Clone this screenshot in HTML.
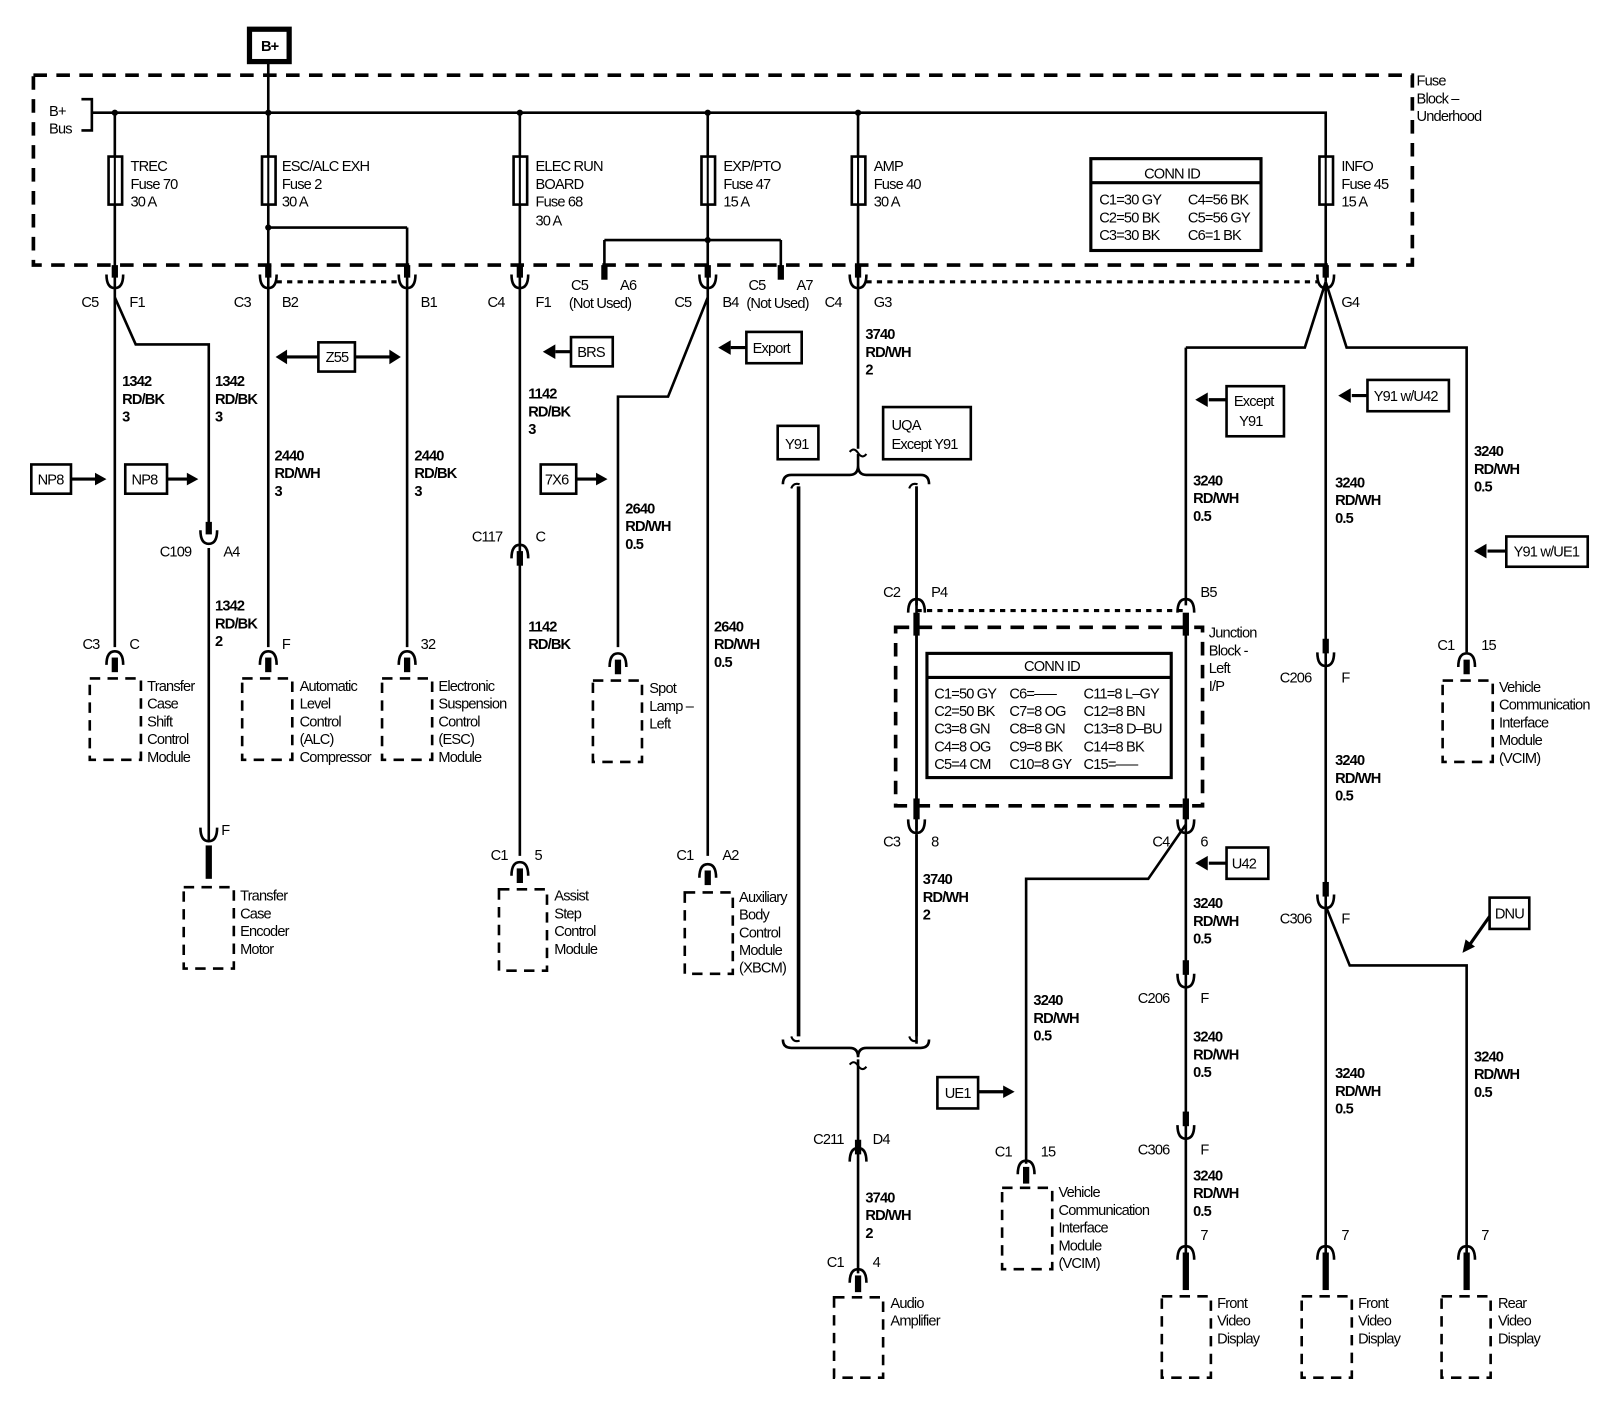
<!DOCTYPE html>
<html><head><meta charset="utf-8"><style>
html,body{margin:0;padding:0;background:#fff;}
svg{display:block;}
text{font-family:"Liberation Sans",sans-serif;font-size:14px;fill:#000;letter-spacing:-0.8px;}
</style></head><body>
<svg width="1618" height="1408" viewBox="0 0 1550 1349" preserveAspectRatio="none" xmlns="http://www.w3.org/2000/svg">
<defs>
<path id="cup" d="M-8,-7 Q-8,6 0,6 Q8,6 8,-7" fill="none" stroke="#000" stroke-width="2.5"/>
<path id="arch" d="M-8,7 Q-8,-6 0,-6 Q8,-6 8,7" fill="none" stroke="#000" stroke-width="2.5"/>
</defs>
<g stroke="#000" fill="none" stroke-width="2.5">
<rect x="239" y="28" width="38" height="31" stroke-width="5"/>
<rect x="32" y="72" width="1321" height="182" stroke-width="3.5" stroke-dasharray="13,9"/>
<path d="M257,60V108 M88,108H1270V270 M78,95H88V125H78"/>
<path d="M110,108V620 M257,108V620 M498,108V820 M678,108V820 M822,108V430 M390,218V620 M257,218H390 M579,230H748 M579,230V265 M748,230V265"/>
<g fill="#fff" stroke-width="2.5"><rect x="104" y="150" width="13" height="46"/><rect x="251" y="150" width="13" height="46"/><rect x="492" y="150" width="13" height="46"/><rect x="672" y="150" width="13" height="46"/><rect x="816" y="150" width="13" height="46"/><rect x="1264" y="150" width="13" height="46"/></g>
<path d="M110,150V196 M257,150V196 M498,150V196 M678,150V196 M822,150V196 M1270,150V196" stroke-width="2"/>
<path d="M265,270H383 M830,270H1262" stroke-width="3" stroke-dasharray="5,5"/>
<path d="M110,285L130,330H200V505 M200,525V805"/>
<path d="M272,342H305 M340,342H376" stroke-width="3"/>
<path d="M678,285L640,380H592V620"/>
<path d="M822,435V448 M750,464Q750,455 758,455H814Q822,455 822,446Q822,455 830,455H882Q890,455 890,464"/>
<path d="M765,466V993" stroke-width="3.5"/>
<path d="M878,466V993"/>
<path d="M758,468Q760,462 766,464 M871,468Q873,462 879,464 M758,993Q760,999 766,997 M871,993Q873,999 879,997" stroke-width="2"/>
<path d="M750,996Q750,1004 758,1004H814Q822,1004 822,1013Q822,1004 830,1004H882Q890,1004 890,996"/>
<path d="M822,1015V1220"/>
<path d="M814,433Q818,428 822,434Q826,440 830,435 M814,1020Q818,1015 822,1021Q826,1027 830,1022" stroke-width="2"/>
<rect x="858" y="601" width="294" height="171" stroke-width="3.5" stroke-dasharray="13,9"/>
<path d="M878,585H1136" stroke-width="3" stroke-dasharray="5,5"/>
<path d="M878,466V580 M878,590V795 M878,800V1000"/>
<path d="M1136,333V580 M1136,588V1200"/>
<path d="M1270,270L1250,333H1136 M1270,270L1290,333H1405V625 M1270,270V1200 M1270,868L1293,925H1405V1200 M1136,790L1100,842H983V1115"/>
<g stroke-width="2.5" stroke-dasharray="10,7">
<rect x="86" y="650" width="49" height="78"/>
<rect x="232" y="650" width="48" height="78"/>
<rect x="366" y="650" width="48" height="78"/>
<rect x="176" y="850" width="48" height="78"/>
<rect x="478" y="852" width="46" height="78"/>
<rect x="568" y="652" width="47" height="78"/>
<rect x="656" y="855" width="46" height="78"/>
<rect x="799" y="1243" width="47" height="77"/>
<rect x="960" y="1138" width="48" height="78"/>
<rect x="1113" y="1242" width="47" height="78"/>
<rect x="1247" y="1242" width="48" height="78"/>
<rect x="1381" y="1242" width="47" height="78"/>
<rect x="1382" y="652" width="48" height="78"/>
</g>
<g stroke-width="2.5">
<rect x="30" y="445" width="38" height="28"/><rect x="120" y="445" width="40" height="28"/>
<rect x="305" y="328" width="35" height="28"/><rect x="547" y="323" width="40" height="28"/>
<rect x="518" y="445" width="34" height="28"/><rect x="715" y="318" width="53" height="30"/>
<rect x="745" y="408" width="39" height="32"/><rect x="846" y="390" width="84" height="50"/>
<rect x="1175" y="370" width="55" height="48"/><rect x="1310" y="364" width="78" height="30"/>
<rect x="1443" y="514" width="78" height="29"/><rect x="1175" y="812" width="40" height="30"/>
<rect x="898" y="1032" width="39" height="30"/><rect x="1427" y="860" width="38" height="30"/>
</g>
<g stroke-width="3"><path d="M68,459H92 M160,459H180 M552,459H572 M937,1046H962 M547,337H532 M715,333H700 M1175,383H1158 M1310,379H1295 M1443,528H1425 M1175,827H1158 M1427,878L1408,905"/></g>
<rect x="1045" y="152" width="163" height="88" stroke-width="3"/><path d="M1045,175H1208" stroke-width="3"/>
<rect x="888" y="626" width="234" height="119" stroke-width="3"/><path d="M888,649H1122" stroke-width="3"/>
</g>
<g fill="#000">
<path d="M102,459L91,453V465Z M190,459L179,453V465Z M582,459L571,453V465Z M972,1046L961,1040V1052Z"/>
<path d="M264,342L275,335V349Z M384,342L373,335V349Z"/>
<path d="M520,337L532,330V344Z M688,333L700,326V340Z M1145,383L1157,376V390Z M1282,379L1294,372V386Z M1412,528L1424,521V535Z M1145,827L1157,820V834Z M1401,913L1404,900L1413,907Z"/>
<circle cx="110" cy="108" r="3"/><circle cx="257" cy="108" r="3"/><circle cx="498" cy="108" r="3"/><circle cx="678" cy="108" r="3"/><circle cx="822" cy="108" r="3"/><circle cx="257" cy="218" r="3"/><circle cx="678" cy="230" r="3"/>
<rect x="107" y="254" width="6" height="12"/><rect x="254" y="254" width="6" height="12"/><rect x="387" y="254" width="6" height="12"/><rect x="495" y="254" width="6" height="12"/><rect x="576" y="254" width="6" height="14"/><rect x="675" y="254" width="6" height="12"/><rect x="745" y="254" width="6" height="14"/><rect x="819" y="254" width="6" height="12"/><rect x="1267" y="254" width="6" height="12"/>
<rect x="107" y="630" width="6" height="14"/><rect x="254" y="630" width="6" height="14"/><rect x="387" y="630" width="6" height="14"/><rect x="589" y="632" width="6" height="14"/><rect x="1402" y="632" width="6" height="14"/>
<rect x="197" y="500" width="6" height="12"/><rect x="197" y="810" width="6" height="32"/>
<rect x="495" y="528" width="6" height="14"/><rect x="495" y="832" width="6" height="14"/><rect x="675" y="834" width="6" height="14"/>
<rect x="875" y="587" width="6" height="22"/><rect x="1133" y="587" width="6" height="22"/><rect x="875" y="765" width="6" height="20"/><rect x="1133" y="765" width="6" height="20"/>
<rect x="1133" y="920" width="6" height="14"/><rect x="1133" y="1065" width="6" height="14"/><rect x="1267" y="612" width="6" height="14"/><rect x="1267" y="845" width="6" height="14"/>
<rect x="819" y="1092" width="6" height="14"/><rect x="819" y="1222" width="6" height="16"/><rect x="980" y="1118" width="6" height="16"/>
<rect x="1133" y="1200" width="6" height="36"/><rect x="1267" y="1200" width="6" height="36"/><rect x="1402" y="1200" width="6" height="36"/>
</g>
<use href="#cup" x="110" y="270"/><use href="#cup" x="257" y="270"/><use href="#cup" x="390" y="270"/><use href="#cup" x="498" y="270"/><use href="#cup" x="678" y="270"/><use href="#cup" x="822" y="270"/><use href="#cup" x="1270" y="270"/>
<use href="#arch" x="110" y="630"/><use href="#arch" x="257" y="630"/><use href="#arch" x="390" y="630"/><use href="#arch" x="592" y="632"/><use href="#arch" x="1405" y="632"/>
<use href="#cup" x="200" y="515"/><use href="#cup" x="200" y="800"/>
<use href="#arch" x="498" y="528"/><use href="#arch" x="498" y="832"/><use href="#arch" x="678" y="834"/>
<use href="#arch" x="878" y="580"/><use href="#arch" x="1136" y="580"/><use href="#cup" x="878" y="792"/><use href="#cup" x="1136" y="792"/>
<use href="#cup" x="1136" y="940"/><use href="#cup" x="1136" y="1085"/><use href="#cup" x="1270" y="632"/><use href="#cup" x="1270" y="864"/>
<use href="#arch" x="822" y="1106"/><use href="#arch" x="822" y="1222"/><use href="#arch" x="983" y="1118"/>
<use href="#arch" x="1136" y="1200"/><use href="#arch" x="1270" y="1200"/><use href="#arch" x="1405" y="1200"/>

<text x="250" y="49" font-weight="bold">B+</text>
<text x="47" y="111">B+</text><text x="47" y="128">Bus</text>
<text x="1357" y="82">Fuse</text><text x="1357" y="99">Block –</text><text x="1357" y="116">Underhood</text>
<text x="125" y="164">TREC</text><text x="125" y="181">Fuse 70</text><text x="125" y="198">30 A</text>
<text x="270" y="164">ESC/ALC EXH</text><text x="270" y="181">Fuse 2</text><text x="270" y="198">30 A</text>
<text x="513" y="164">ELEC RUN</text><text x="513" y="181">BOARD</text><text x="513" y="198">Fuse 68</text><text x="513" y="216">30 A</text>
<text x="693" y="164">EXP/PTO</text><text x="693" y="181">Fuse 47</text><text x="693" y="198">15 A</text>
<text x="837" y="164">AMP</text><text x="837" y="181">Fuse 40</text><text x="837" y="198">30 A</text>
<text x="1285" y="164">INFO</text><text x="1285" y="181">Fuse 45</text><text x="1285" y="198">15 A</text>
<text x="1096" y="171">CONN ID</text>
<text x="1053" y="196">C1=30 GY</text><text x="1138" y="196">C4=56 BK</text>
<text x="1053" y="213">C2=50 BK</text><text x="1138" y="213">C5=56 GY</text>
<text x="1053" y="230">C3=30 BK</text><text x="1138" y="230">C6=1 BK</text>
<text x="78" y="294">C5</text><text x="124" y="294">F1</text>
<text x="224" y="294">C3</text><text x="270" y="294">B2</text><text x="403" y="294">B1</text>
<text x="467" y="294">C4</text><text x="513" y="294">F1</text>
<text x="547" y="278">C5</text><text x="594" y="278">A6</text><text x="545" y="295">(Not Used)</text>
<text x="646" y="294">C5</text><text x="692" y="294">B4</text>
<text x="717" y="278">C5</text><text x="763" y="278">A7</text><text x="715" y="295">(Not Used)</text>
<text x="790" y="294">C4</text><text x="837" y="294">G3</text><text x="1285" y="294">G4</text>
<text x="312" y="347" font-size="13">Z55</text><text x="553" y="342">BRS</text><text x="721" y="338">Export</text>
<text x="36" y="464">NP8</text><text x="126" y="464">NP8</text><text x="522" y="464">7X6</text>
<g font-weight="bold">
<text x="117" y="370">1342</text><text x="117" y="387">RD/BK</text><text x="117" y="404">3</text>
<text x="206" y="370">1342</text><text x="206" y="387">RD/BK</text><text x="206" y="404">3</text>
<text x="263" y="441">2440</text><text x="263" y="458">RD/WH</text><text x="263" y="475">3</text>
<text x="397" y="441">2440</text><text x="397" y="458">RD/BK</text><text x="397" y="475">3</text>
<text x="506" y="382">1142</text><text x="506" y="399">RD/BK</text><text x="506" y="416">3</text>
<text x="599" y="492">2640</text><text x="599" y="509">RD/WH</text><text x="599" y="526">0.5</text>
<text x="829" y="325">3740</text><text x="829" y="342">RD/WH</text><text x="829" y="359">2</text>
<text x="206" y="585">1342</text><text x="206" y="602">RD/BK</text><text x="206" y="619">2</text>
<text x="506" y="605">1142</text><text x="506" y="622">RD/BK</text>
<text x="684" y="605">2640</text><text x="684" y="622">RD/WH</text><text x="684" y="639">0.5</text>
<text x="1143" y="465">3240</text><text x="1143" y="482">RD/WH</text><text x="1143" y="499">0.5</text>
<text x="1279" y="467">3240</text><text x="1279" y="484">RD/WH</text><text x="1279" y="501">0.5</text>
<text x="1412" y="437">3240</text><text x="1412" y="454">RD/WH</text><text x="1412" y="471">0.5</text>
<text x="1279" y="733">3240</text><text x="1279" y="750">RD/WH</text><text x="1279" y="767">0.5</text>
<text x="884" y="847">3740</text><text x="884" y="864">RD/WH</text><text x="884" y="881">2</text>
<text x="1143" y="870">3240</text><text x="1143" y="887">RD/WH</text><text x="1143" y="904">0.5</text>
<text x="990" y="963">3240</text><text x="990" y="980">RD/WH</text><text x="990" y="997">0.5</text>
<text x="1143" y="998">3240</text><text x="1143" y="1015">RD/WH</text><text x="1143" y="1032">0.5</text>
<text x="1412" y="1017">3240</text><text x="1412" y="1034">RD/WH</text><text x="1412" y="1051">0.5</text>
<text x="1279" y="1033">3240</text><text x="1279" y="1050">RD/WH</text><text x="1279" y="1067">0.5</text>
<text x="1143" y="1131">3240</text><text x="1143" y="1148">RD/WH</text><text x="1143" y="1165">0.5</text>
<text x="829" y="1152">3740</text><text x="829" y="1169">RD/WH</text><text x="829" y="1186">2</text>
</g>
<text x="752" y="430">Y91</text><text x="854" y="412">UQA</text><text x="854" y="430">Except Y91</text>
<text x="1182" y="389">Except</text><text x="1187" y="408">Y91</text>
<text x="1316" y="384">Y91 w/U42</text><text x="1450" y="533">Y91 w/UE1</text>
<text x="1180" y="832">U42</text><text x="905" y="1052">UE1</text><text x="1432" y="880">DNU</text>
<text x="153" y="533">C109</text><text x="214" y="533">A4</text>
<text x="452" y="519">C117</text><text x="513" y="519">C</text>
<text x="79" y="622">C3</text><text x="124" y="622">C</text><text x="270" y="622">F</text><text x="403" y="622">32</text>
<text x="212" y="800">F</text>
<text x="846" y="572">C2</text><text x="892" y="572">P4</text><text x="1150" y="572">B5</text>
<text x="1377" y="623">C1</text><text x="1419" y="623">15</text>
<text x="1226" y="654">C206</text><text x="1285" y="654">F</text>
<text x="846" y="811">C3</text><text x="892" y="811">8</text><text x="1104" y="811">C4</text><text x="1150" y="811">6</text>
<text x="1226" y="885">C306</text><text x="1285" y="885">F</text>
<text x="470" y="824">C1</text><text x="512" y="824">5</text><text x="648" y="824">C1</text><text x="692" y="824">A2</text>
<text x="1090" y="961">C206</text><text x="1150" y="961">F</text>
<text x="1090" y="1106">C306</text><text x="1150" y="1106">F</text>
<text x="779" y="1096">C211</text><text x="836" y="1096">D4</text>
<text x="953" y="1108">C1</text><text x="997" y="1108">15</text>
<text x="792" y="1214">C1</text><text x="836" y="1214">4</text>
<text x="1150" y="1188">7</text><text x="1285" y="1188">7</text><text x="1419" y="1188">7</text>
<text x="981" y="643">CONN ID</text>
<g font-size="13.5">
<text x="895" y="669">C1=50 GY</text><text x="967" y="669">C6=–––</text><text x="1038" y="669">C11=8 L–GY</text>
<text x="895" y="686">C2=50 BK</text><text x="967" y="686">C7=8 OG</text><text x="1038" y="686">C12=8 BN</text>
<text x="895" y="703">C3=8 GN</text><text x="967" y="703">C8=8 GN</text><text x="1038" y="703">C13=8 D–BU</text>
<text x="895" y="720">C4=8 OG</text><text x="967" y="720">C9=8 BK</text><text x="1038" y="720">C14=8 BK</text>
<text x="895" y="737">C5=4 CM</text><text x="967" y="737">C10=8 GY</text><text x="1038" y="737">C15=–––</text>
</g>
<text x="1158" y="611">Junction</text><text x="1158" y="628">Block -</text><text x="1158" y="645">Left</text><text x="1158" y="662">I/P</text>
<text x="141" y="662">Transfer</text><text x="141" y="679">Case</text><text x="141" y="696">Shift</text><text x="141" y="713">Control</text><text x="141" y="730">Module</text>
<text x="287" y="662">Automatic</text><text x="287" y="679">Level</text><text x="287" y="696">Control</text><text x="287" y="713">(ALC)</text><text x="287" y="730">Compressor</text>
<text x="420" y="662">Electronic</text><text x="420" y="679">Suspension</text><text x="420" y="696">Control</text><text x="420" y="713">(ESC)</text><text x="420" y="730">Module</text>
<text x="622" y="664">Spot</text><text x="622" y="681">Lamp –</text><text x="622" y="698">Left</text>
<text x="1436" y="663">Vehicle</text><text x="1436" y="680">Communication</text><text x="1436" y="697">Interface</text><text x="1436" y="714">Module</text><text x="1436" y="731">(VCIM)</text>
<text x="230" y="863">Transfer</text><text x="230" y="880">Case</text><text x="230" y="897">Encoder</text><text x="230" y="914">Motor</text>
<text x="531" y="863">Assist</text><text x="531" y="880">Step</text><text x="531" y="897">Control</text><text x="531" y="914">Module</text>
<text x="708" y="864">Auxiliary</text><text x="708" y="881">Body</text><text x="708" y="898">Control</text><text x="708" y="915">Module</text><text x="708" y="932">(XBCM)</text>
<text x="1014" y="1147">Vehicle</text><text x="1014" y="1164">Communication</text><text x="1014" y="1181">Interface</text><text x="1014" y="1198">Module</text><text x="1014" y="1215">(VCIM)</text>
<text x="853" y="1253">Audio</text><text x="853" y="1270">Amplifier</text>
<text x="1166" y="1253">Front</text><text x="1166" y="1270">Video</text><text x="1166" y="1287">Display</text>
<text x="1301" y="1253">Front</text><text x="1301" y="1270">Video</text><text x="1301" y="1287">Display</text>
<text x="1435" y="1253">Rear</text><text x="1435" y="1270">Video</text><text x="1435" y="1287">Display</text>
</svg>
</body></html>
